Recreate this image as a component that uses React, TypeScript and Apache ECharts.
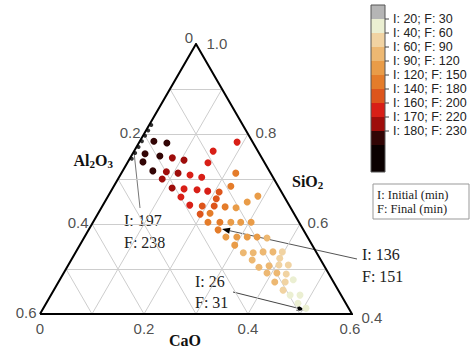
import React, { useEffect, useRef } from "react";
import * as echarts from "echarts";

// ---------- data ----------
const groupLabels = [
  "I: 20; F: 30",
  "I: 40; F: 60",
  "I: 60; F: 90",
  "I: 90; F: 120",
  "I: 120; F: 150",
  "I: 140; F: 180",
  "I: 160; F: 200",
  "I: 170; F: 220",
  "I: 180; F: 230",
];
const groupColors = [
  "#ebefd2",
  "#f1d3a2",
  "#edb872",
  "#e99c48",
  "#e47c2a",
  "#dd551c",
  "#d81f17",
  "#9e0d0b",
  "#320505",
];
const barTopColor = "#b5b5b5";
const barBottomColor = "#0a0000";

// compositions: [CaO, Al2O3, SiO2]
const grp20 = [[0.449,0.075,0.476],[0.460,0.098,0.442],[0.479,0.079,0.442],[0.484,0.092,0.424],[0.505,0.082,0.413]];
const grp40 = [[0.397,0.065,0.538],[0.399,0.077,0.524],[0.405,0.086,0.509],[0.423,0.068,0.509],[0.429,0.082,0.489],[0.436,0.093,0.471],[0.441,0.106,0.453]];
const grp60 = [[0.352,0.079,0.569],[0.323,0.141,0.536],[0.342,0.122,0.536],[0.360,0.102,0.538],[0.379,0.083,0.538],[0.348,0.132,0.520],[0.369,0.127,0.504],[0.387,0.106,0.507],[0.391,0.118,0.491],[0.410,0.099,0.491],[0.416,0.113,0.471]];
const grp90 = [[0.288,0.050,0.662],[0.274,0.077,0.649],[0.259,0.105,0.636],[0.265,0.131,0.604],[0.284,0.112,0.604],[0.304,0.092,0.604],[0.272,0.157,0.571],[0.293,0.136,0.571],[0.313,0.116,0.571],[0.332,0.097,0.571],[0.298,0.149,0.553]];
const grp120 = [[0.225,0.091,0.684],[0.220,0.067,0.713],[0.237,0.125,0.638],[0.215,0.161,0.624],[0.221,0.175,0.604],[0.244,0.152,0.604],[0.249,0.164,0.587]];
const grp140 = [[0.209,0.120,0.671],[0.211,0.133,0.656],[0.192,0.168,0.640],[0.215,0.145,0.640],[0.197,0.181,0.622]];
const grp160 = [[0.152,0.086,0.762],[0.188,0.030,0.782],[0.155,0.109,0.736],[0.134,0.157,0.709],[0.159,0.137,0.704],[0.138,0.184,0.678],[0.164,0.160,0.676],[0.186,0.141,0.673],[0.141,0.199,0.660],[0.167,0.191,0.642]];
const grp170 = [[0.081,0.172,0.747],[0.106,0.152,0.742],[0.085,0.199,0.716],[0.109,0.178,0.713],[0.085,0.215,0.700],[0.114,0.206,0.680]];
const grp180 = [[0.027,0.189,0.784],[0.054,0.166,0.780],[0.024,0.220,0.756],[0.055,0.194,0.751],[0.029,0.233,0.738],[0.058,0.224,0.718]];
// I: 197; F: 238 trail along the Al2O3 edge
const grp197 = [[0.004,0.176,0.820],[0.004,0.188,0.808],[0.004,0.200,0.796],[0.004,0.212,0.784],[0.004,0.225,0.771],[0.004,0.238,0.758],[0.004,0.251,0.745]];

const pointGroups = [grp20, grp40, grp60, grp90, grp120, grp140, grp160, grp170, grp180];

const caoTicks = [0, 0.2, 0.4, 0.6];
const al2o3Ticks = [0, 0.2, 0.4, 0.6];
const sio2Ticks = [0.4, 0.6, 0.8, 1.0];
const gridSteps = [0.1, 0.2, 0.3, 0.4, 0.5];
const sio2Grid = [0.5, 0.6, 0.7, 0.8, 0.9];

// ---------- helpers ----------
const SQ = Math.sqrt(3) / 2;
const toXY = (c: number, s: number) => [c + (s - 0.4) / 2, (s - 0.4) * SQ];
const fmt = (v: number) => (v === 0 ? "0" : v.toFixed(1));

const SANS = "Liberation Sans, Arial, sans-serif";
const SERIF = "Liberation Serif, Times New Roman, serif";

function arrow(x1: number, y1: number, x2: number, y2: number, color: string) {
  const ang = Math.atan2(y2 - y1, x2 - x1);
  const L = 8, W = 3;
  const bx = x2 - L * Math.cos(ang), by = y2 - L * Math.sin(ang);
  const px = -Math.sin(ang) * W, py = Math.cos(ang) * W;
  return [
    { type: "line", shape: { x1, y1, x2: bx, y2: by }, style: { stroke: color, lineWidth: 1 } },
    { type: "polygon", shape: { points: [[x2, y2], [bx + px, by + py], [bx - px, by - py]] }, style: { fill: "#000" } },
  ];
}

export default function App() {
  const ref = useRef<HTMLDivElement>(null);
  useEffect(() => {
    if (!ref.current) return;
    const chart = echarts.init(ref.current, undefined, { renderer: "svg" });

    const gridLines: any[] = [];
    sio2Grid.forEach((v) => gridLines.push({ coords: [toXY(0, v), toXY(1 - v, v)] }));
    gridSteps.forEach((v) => gridLines.push({ coords: [toXY(v, 0.4), toXY(v, 1 - v)] }));
    gridSteps.forEach((v) => gridLines.push({ coords: [toXY(0.6 - v, 0.4), toXY(0, 1 - v)] }));

    const frame = [{ coords: [toXY(0, 0.4), toXY(0.6, 0.4), toXY(0, 1.0), toXY(0, 0.4)] }];

    const labelBase = { show: true, fontSize: 15, color: "#222", fontFamily: SANS, formatter: "{b}" };

    const bottomData = caoTicks.map((c, i) => ({
      name: fmt(c),
      value: toXY(c, 0.4),
      label: { position: "bottom", distance: 6, offset: [i === 3 ? -2 : 0, 0] },
    }));
    const leftData = al2o3Ticks.map((a) =>
      a === 0
        ? { name: fmt(a), value: toXY(0, 1 - a), label: { position: "top", distance: 0, offset: [-7, 1] } }
        : { name: fmt(a), value: toXY(0, 1 - a), label: { position: "left", distance: 3, offset: [0, -2] } }
    );
    const rightOffsets: Record<string, number[]> = { "0.4": [5, 3], "0.6": [3, -2], "0.8": [3, -2], "1.0": [6, -1] };
    const rightData = sio2Ticks.map((s) => ({
      name: fmt(s),
      value: toXY(1 - s, s),
      label: { position: "right", distance: 4, offset: rightOffsets[fmt(s)] },
    }));

    const tickSeries = [bottomData, leftData, rightData].map((d) => ({
      type: "scatter",
      symbolSize: 1,
      itemStyle: { color: "rgba(0,0,0,0)" },
      label: labelBase,
      data: d,
      silent: true,
      z: 5,
    }));

    const pointSeries = pointGroups.map((g, i) => ({
      type: "scatter",
      name: groupLabels[i],
      symbolSize: 7,
      itemStyle: { color: groupColors[i], opacity: 1 },
      data: g.map((p) => toXY(p[0], p[2])),
      z: 4,
    }));

    // ---------- legend (colour bar) ----------
    const barX = 371, barW = 14;
    const edges = [5, 19, 33, 47, 61, 75, 89, 103, 117, 131, 145, 172];
    const barColors = [barTopColor, ...groupColors, barBottomColor];
    const legend: any[] = [];
    barColors.forEach((col, i) => {
      legend.push({ type: "rect", shape: { x: barX, y: edges[i], width: barW, height: edges[i + 1] - edges[i] }, style: { fill: col } });
    });
    legend.push({ type: "rect", shape: { x: barX, y: edges[0], width: barW, height: edges[edges.length - 1] - edges[0] }, style: { fill: "none", stroke: "#555", lineWidth: 1 } });
    groupLabels.forEach((lab, i) => {
      const y = edges[i + 1];
      legend.push({ type: "line", shape: { x1: barX + barW, y1: y, x2: barX + barW + 4, y2: y }, style: { stroke: "#444", lineWidth: 1 } });
      legend.push({ type: "text", x: 393, y, style: { text: lab, fontSize: 12.5, lineHeight: 13, fontFamily: SANS, fill: "#222", align: "left", verticalAlign: "middle" } });
    });
    legend.push({ type: "rect", shape: { x: 373, y: 184, width: 96, height: 35 }, style: { fill: "#fff", stroke: "#999", lineWidth: 1 } });
    legend.push({ type: "text", x: 377, y: 195, style: { text: "I: Initial (min)", fontSize: 12.5, lineHeight: 13, fontFamily: SERIF, fill: "#222", verticalAlign: "middle" } });
    legend.push({ type: "text", x: 377, y: 209, style: { text: "F: Final (min)", fontSize: 12.5, lineHeight: 13, fontFamily: SERIF, fill: "#222", verticalAlign: "middle" } });

    // ---------- titles ----------
    const rich = {
      m: { fontSize: 16, fontWeight: "bold", fontFamily: SERIF, fill: "#111", color: "#111" },
      s: { fontSize: 11, fontWeight: "bold", fontFamily: SERIF, fill: "#111", color: "#111", padding: [8, 0, 0, 0] },
    };
    const titles = [
      { type: "text", x: 113, y: 160, style: { text: "{m|Al}{s|2}{m|O}{s|3}", rich, align: "right", verticalAlign: "middle" } },
      { type: "text", x: 292, y: 181, style: { text: "{m|SiO}{s|2}", rich, align: "left", verticalAlign: "middle" } },
      { type: "text", x: 185, y: 340, style: { text: "CaO", fontSize: 16, fontWeight: "bold", fontFamily: SERIF, fill: "#111", align: "center", verticalAlign: "middle" } },
    ];

    // ---------- annotations ----------
    const annText = (x: number, y: number, t: string) => ({ type: "text", x, y, style: { text: t, fontSize: 16, fontFamily: SERIF, fill: "#222", verticalAlign: "middle" } });
    const annotations: any[] = [
      annText(124, 220, "I: 197"),
      annText(124, 242, "F: 238"),
      { type: "line", shape: { x1: 140, y1: 208, x2: 134, y2: 152 }, style: { stroke: "#777", lineWidth: 1 } },
      annText(362, 254, "I: 136"),
      annText(362, 276, "F: 151"),
      ...arrow(357, 259, 222, 229, "#555"),
      annText(195, 281, "I: 26"),
      annText(195, 302, "F: 31"),
      ...arrow(233, 292, 305, 310, "#444"),
    ];

    chart.setOption({
      animation: false,
      backgroundColor: "#fff",
      grid: { left: 40, top: 44, width: 312, height: 270 },
      xAxis: { type: "value", min: 0, max: 0.6, show: false },
      yAxis: { type: "value", min: 0, max: 0.6 * SQ, show: false },
      series: [
        {
          type: "lines",
          coordinateSystem: "cartesian2d",
          silent: true,
          lineStyle: { color: "#cdcdcd", width: 1, opacity: 1 },
          data: gridLines,
          z: 1,
        },
        {
          type: "lines",
          coordinateSystem: "cartesian2d",
          polyline: true,
          silent: true,
          lineStyle: { color: "#000", width: 2, opacity: 1 },
          data: frame,
          z: 2,
        },
        ...pointSeries,
        {
          type: "scatter",
          name: "I: 197; F: 238",
          symbolSize: 4,
          itemStyle: { color: "#000" },
          data: grp197.map((p) => toXY(p[0], p[2])),
          z: 4,
        },
        ...tickSeries,
      ],
      graphic: [...legend, ...titles, ...annotations],
    } as any);

    return () => chart.dispose();
  }, []);

  return <div ref={ref} style={{ position: "absolute", left: 0, top: 0, width: 472, height: 348, background: "#fff" }} />;
}
